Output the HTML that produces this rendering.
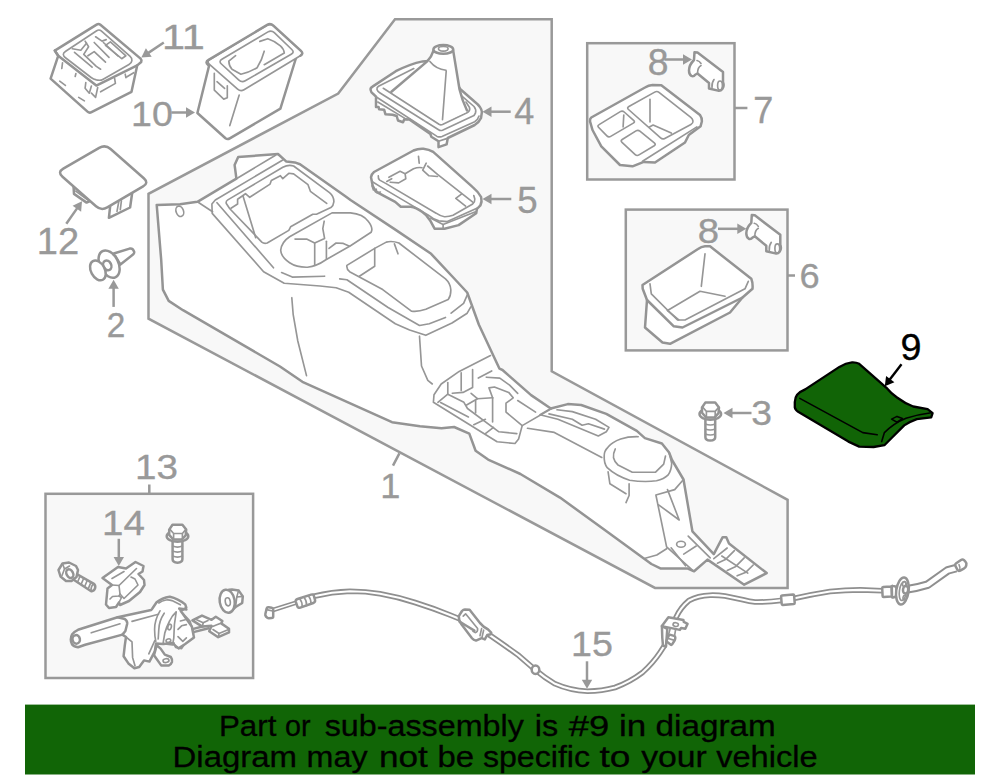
<!DOCTYPE html>
<html>
<head>
<meta charset="utf-8">
<title>Console parts diagram</title>
<style>
html,body{margin:0;padding:0;background:#fff;overflow:hidden;}
body{width:1000px;height:781px;font-family:"Liberation Sans",sans-serif;}
svg{display:block;}
.l{fill:none;stroke:#949494;stroke-width:2.5;stroke-linecap:round;stroke-linejoin:round;}
.t{fill:none;stroke:#969696;stroke-width:1.65;stroke-linecap:round;stroke-linejoin:round;}
.w{fill:#fff;stroke:#949494;stroke-width:2.5;stroke-linecap:round;stroke-linejoin:round;}
.wt{fill:#fff;stroke:#969696;stroke-width:1.65;stroke-linecap:round;stroke-linejoin:round;}
.wf{fill:#fff;stroke:none;}
.box{fill:#f8f8f8;stroke:#999;stroke-width:2.5;stroke-linejoin:miter;}
.n{font-family:"Liberation Sans",sans-serif;font-size:36px;fill:#999;stroke:#999;stroke-width:0.35px;}
.nk{font-family:"Liberation Sans",sans-serif;font-size:36px;fill:#000;stroke:#000;stroke-width:0.35px;}
.a{fill:#999;stroke:none;}
.al{fill:none;stroke:#999;stroke-width:2.5;}
.ak{fill:#000;stroke:none;}
.akl{fill:none;stroke:#000;stroke-width:2.4;}
.g{fill:#116406;stroke:#000;stroke-width:2.3;stroke-linejoin:round;}
.k{fill:none;stroke:#000;stroke-width:1.6;stroke-linecap:round;stroke-linejoin:round;}
.c1{fill:none;stroke:#8f8f8f;stroke-width:5.6;stroke-linecap:round;stroke-linejoin:round;}
.c2{fill:none;stroke:#fff;stroke-width:2.1;stroke-linecap:round;stroke-linejoin:round;}
.b{font-family:"Liberation Sans",sans-serif;font-size:29.8px;fill:#000;stroke:#000;stroke-width:0.3px;}
</style>
</head>
<body>
<svg width="1000" height="781" viewBox="0 0 1000 781">
<rect x="0" y="0" width="1000" height="781" fill="#fff"/>
<g id="p_boxes">
<polygon class="box" points="395,19.3 551.7,19.3 551.7,371.3 787.6,499.8 787.6,587.9 655,587.9 148.5,318.7 148.5,193.8 338.2,93.5"/>
<rect class="box" x="587.2" y="43.2" width="147.3" height="136.3"/>
<rect class="box" x="625.8" y="209.6" width="161.7" height="140.8"/>
<rect class="box" x="45.5" y="493.8" width="207.6" height="184.2"/>
</g>
<g id="p_small">
<path class="w" d="M54.8,50.6 L96.6,24.6 Q98.6,23.3 100.4,24.8 L140.6,58.6 Q142,60 141.2,62 L137.2,65.4 L131.5,91.8 L91.5,112.2 Q89.3,113.3 87.5,111.6 L50.6,78.6 L58.2,55.8 Z"/>
<path class="l" d="M54.8,50.6 L58.2,55.8 L96.3,85.6 L137.2,65.4"/>
<path class="t" d="M63.3,54.5 Q63.2,52.8 65.7,51.2 L96.7,30.7 Q99.2,29.1 101.5,31.1 L129.9,56.2 Q132.2,58.2 131.9,60.6 L131.9,60.6 Q131.6,63.0 129.0,64.5 L103.2,79.2 Q100.6,80.7 97.7,80.1 L96.4,79.9 Q93.5,79.3 91.1,77.5 L65.8,58.0 Q63.4,56.2 63.3,54.5 Z"/>
<path class="t" d="M72.4,48.8 L80.8,50.2 L86.5,43.2"/>
<path class="t" d="M74.5,52.3 L92.1,67.1"/>
<path class="t" d="M85.1,41.1 L88.6,46.7 L83.7,54.4 L96.3,66.4 L100.6,69.2"/>
<path class="t" d="M87.9,55.8 L94.2,51.6 L105.5,62.2"/>
<path class="t" d="M94.2,42.5 L109,57.3"/>
<path class="t" d="M95.6,36.8 L102,41.1 L106.2,39.6"/>
<path class="t" d="M103.4,42.5 L118,56"/>
<path class="t" d="M62.5,62.9 L61.8,68.5"/>
<path class="t" d="M75.9,73.5 L75.2,76.5"/>
<path class="t" d="M59.7,81.2 L65.4,85.4"/>
<path class="t" d="M78.7,97.4 L84.4,100.9"/>
<path class="t" d="M85.8,82.6 L85.1,88.2 L89.3,93.2 L91.4,86.1"/>
<path class="t" d="M91.4,93.2 L95.6,97.4 L97.7,87.5"/>
<path class="t" d="M100.6,91.8 L114.6,83.9"/>
<path class="t" d="M114.6,78.4 L115.4,83.3"/>
<path class="t" d="M125.2,74.2 L125.9,77.7"/>
<path class="t" d="M126.6,77 L133.7,72.7"/>
<path class="t" d="M105.5,45.3 L110.4,41.8 L125.9,55.8 L121.7,58.7 Z"/>
<path class="w" d="M209.5,64 L197.4,113 L225.5,138.3 Q227.5,139.8 229.8,138.4 L280.4,108.6 L296,58 Z"/>
<path class="wt" d="M209.5,64.3 Q206.5,61.6 209.9,59.5 L267.1,25.2 Q270.5,23.1 273.4,25.8 L300.8,50.9 Q303.7,53.6 300.3,55.7 L244.0,89.8 Q240.6,91.9 237.6,89.2 Z"/>
<path class="l" d="M208.2,65 Q204.6,62.2 208.6,59.9 L267.2,24.9 Q270.5,23 273.4,25.7 L301,50.9 Q303.9,53.6 300.5,55.7"/>
<path class="t" d="M221.4,64.0 Q218.5,61.3 221.9,59.3 L268.0,31.9 Q271.4,29.9 274.3,32.7 L291.8,49.5 Q294.7,52.3 291.2,54.3 L245.3,80.8 Q241.8,82.8 238.9,80.1 Z"/>
<path class="t" d="M235.6,55.7 L228.8,61.1 Q229,66 232,69.2 L240.9,74.2 Q250,72 257.1,67.7 Q262,60 264.2,51.2"/>
<path class="t" d="M259.8,41.4 L267.8,38.7 Q275,41 280.4,45.8 Q284,49 284.3,53 L264.2,64.7"/>
<path class="t" d="M239.2,95.1 L229.8,125.6"/>
<path class="wt" d="M214.3,73.2 L214.3,90.2 L223.7,99.1 L227.3,97.8 L227.3,85.7"/>
<path class="t" d="M217,81.7 L224.6,88.4"/>
<path class="w" d="M73.5,186 L74,193.9 L86.6,202.6 L91,200.5"/>
<path class="t" d="M75.7,191.1 L87.6,199.8"/>
<path class="w" d="M110.5,203 L108.9,217.8 L130.1,207.5 L132.3,192"/>
<path class="t" d="M118.7,202 L117,211.3"/>
<path class="t" d="M121.4,200.9 L120.3,209.6"/>
<path class="w" d="M62.5,176.7 Q57.2,172.1 63.3,168.6 L99.2,147.9 Q105.3,144.4 110.6,149.0 L143.8,178.3 Q149.1,182.9 143.1,186.4 L107.3,207.4 Q101.3,210.9 96.0,206.3 Z"/>
<path class="w" d="M113.8,253.5 L129.6,248.6 Q133,248 134.2,251.9 Q134.4,253.5 133,254.6 L120.4,264.6 Z"/>
<ellipse class="w" cx="109.1" cy="264.1" rx="9.2" ry="14.6" transform="rotate(-27 109.1 264.1)"/>
<ellipse class="w" cx="107.3" cy="265.4" rx="3.9" ry="5" transform="rotate(-27 107.3 265.4)"/>
<ellipse class="w" cx="97.9" cy="270.4" rx="6.9" ry="10.6" transform="rotate(-28 97.9 270.4)"/>
</g>
<g id="p_mid">
<path class="w" d="M370.6,90 Q370.2,88 372.5,86.6 L395.8,71.2 Q410,64 422.7,61.4 L440,60 L460.4,89.2 L474.7,101.7 Q481.5,107 481.9,112 L481,118 Q479,122.5 474.7,125 L447.8,138 L446.6,144.4 L438.5,147.1 L438.5,141.2 L431.3,136.7 L430.4,134 L409.7,119.6 L404.3,119.2 L403,122.3 L398,120.5 L396.7,116 L392.6,114.7 L385.4,114.2 L384.1,109.7 L379.1,109.3 L378.6,107 L376,107 L376,96.7 L373.7,94.4 Q370.8,92.5 370.6,90 Z"/>
<path class="t" d="M376,96.7 L437,136.4 Q439.5,137.4 442,136.4 L474.7,121.8 Q478,119.6 479,116"/>
<path class="t" d="M377.8,102 L407,119.6"/>
<path class="t" d="M438.5,141.2 L446.6,138.6"/>
<path class="t" d="M377,89.5 Q376.6,87.6 378.5,86.3 L413.8,68.5 M462.2,96.3 L474,106.5 Q476.5,109.5 475.5,113 L474,115.5 L442.5,130.2 Q440.5,131 438.6,129.8 L379.7,92.7 Q377.5,91.3 377,89.5"/>
<path class="t" d="M383.3,88.3 L439,124.3 Q440.7,125.3 442.5,124.5 L467.5,112.5 Q470.5,110.5 469.5,107.5 L466,102"/>
<path class="wf" d="M433.5,50.6 Q431.5,57 427.2,61.4 L391.4,91.8 L440.5,123.5 L467.5,111.5 Q462,100 459.5,89.2 L453.2,50.6 Z"/>
<path class="l" d="M433.5,50.6 Q431.5,57 427.2,61.4 L391.4,91.8"/>
<path class="l" d="M453.2,50.6 L459.5,89.2 Q462,100 467,110.5"/>
<ellipse class="w" cx="443.3" cy="49.4" rx="9.9" ry="4.4"/>
<ellipse class="t" cx="443.3" cy="48.8" rx="4.8" ry="2.3"/>
<path class="t" d="M446.2,71.2 L442.5,119.6"/>
<path class="t" d="M429.9,61.4 Q436,69 446,70.3"/>
<path class="w" d="M371,177.3 Q371.5,174 374,172 L413.5,150.5 Q418,148.5 423.4,148.8 Q429,149.5 433.2,151.9 L472.7,187.1 Q478.5,192 481.1,197 Q482.3,201.5 480.4,205.4 L476.9,209 L476.2,213.2 L458.6,225.1 L444.5,228.7 L434.6,228.7 L430.4,220.9 Q427,215 422,211.8 Q416,207.5 410.7,206.8 L400.8,206.8 L395.2,201.9 L375.5,191.3 L372.7,185.7 Z"/>
<path class="t" d="M378.3,175.8 Q378,178.5 379.7,180.1 L386.1,183.6 L436.1,213.2 Q440,216 444.5,216.7 Q449,216.8 453,215.3 L472.7,204 Q475,202 474.8,199.1 L473.8,195.6"/>
<path class="t" d="M372,181.5 L381.1,187.1 L427.6,214.6 Q433,219 438.9,220.9 L447.3,221.6 L476.9,208.2"/>
<path class="t" d="M430.4,218.1 L443.1,224.4 L443.1,228.7"/>
<path class="t" d="M443.1,224.4 L475.5,211.8"/>
<path class="t" d="M388.9,177.3 L400.1,171.3 L405.1,173.7 L405.8,178.7 L398.7,182.9 L390.3,182.2"/>
<path class="t" d="M386.8,181.5 L391.7,178.7"/>
<path class="t" d="M418.5,156.4 L419.2,163.2"/>
<path class="t" d="M426.2,163.2 L422.7,170.2 L429,175.8 L437.5,176.5"/>
<path class="t" d="M427.6,166 L437.5,174.4 L473.4,202.6"/>
<path class="t" d="M461.4,194.2 L455.8,198.4 L465.6,206.1"/>
<path class="t" d="M372,185.7 L373.4,189.9 L376.2,189.2 L376.9,192.7 L380.4,192"/>
<path class="t" d="M405.1,173.7 L413.5,168.8 Q418,167 422,167.7"/>
</g>
<g id="p_console">
<path class="w" d="M156.7,204.9 L180,204.3 L197.4,201.8 L236.4,178.7 L234.6,164.9 L238.2,157 L278,154 L286.4,161.6 L294.8,162.4 L300,164.2 L345,196.1 L350.5,200 L395.3,229.6 L431.1,253.8 L455.6,280 L467.2,292.5 L478.9,324.8 L499.5,368.7 L502.5,370 L531.1,395.1 L550.8,408.5 L567.8,404.1 L581.2,405 L606.3,413.9 L636.8,430.9 L644.9,438.1 L661.9,443.5 L669.1,452.5 L672,460 L677.9,470 L683.5,479.5 L692.4,531.3 L713.8,554.2 L722.7,537.2 L726.3,537.2 L729,543.5 L766.7,573.1 L744.2,584.7 L707.5,559.6 L694.1,571.3 L687.3,568.4 L660.4,568.4 L651.4,564 L604.8,529.9 L560,497.6 L520.4,474 L488.1,459.6 L475.6,450.7 L469.3,433.6 L454.1,427 L441.5,428.3 L420,426.2 L392,422.2 L302.4,381.8 L280,366.5 L183,310.2 L168.7,300.9 L162.9,289.6 L161.2,260 Z"/>
<path class="t" d="M197.4,201.8 L212.6,211.7"/>
<path class="t" d="M236.4,178.7 L275.5,155.2"/>
<path class="t" d="M282.8,160 L215.3,200 L211.9,204 L212.2,213.4 L263.6,271.7 L284.2,283.3 L320,286 L336.1,287.8 L348.7,292.3 L395.3,323.7 L409.6,330 L425.8,335.3 L452,323 L467.2,313.2 L470.8,306.9"/>
<path class="t" d="M217,202.7 L273.5,267.8"/>
<path class="t" d="M231,208.2 L237.6,204 L237.6,199.2 L245.5,193.7 L249.7,197.3 L270.1,184.1 L271.3,180.5 L280.4,175.7 L282.8,178.7 L288.8,173.3 L293.6,173.9 L308,184.7 L310.4,191.3 L326.7,203.4"/>
<path class="t" d="M243,196.1 L255.7,237.7"/>
<path class="t" d="M295,239.1 L306.6,239.1 L314.7,243 L324.6,238.5 L322.8,228.7 L324.2,221.2"/>
<path class="t" d="M314.7,243 L314.7,265.4"/>
<path class="t" d="M326.4,241.2 L326.4,259.2"/>
<path class="t" d="M329,248.4 L336.1,243 L343.3,243.4 L349.6,246.2"/>
<path class="t" d="M281.6,272.6 L292.3,277.1 L324.6,276.2"/>
<path class="t" d="M339.7,278.9 L346.9,279.8 L388.1,307.5 L419.5,325.5 L429.3,323.7 L445.5,317.4"/>
<path class="t" d="M451.1,313.2 L463.6,303.3 L467.2,295.2"/>
<path class="t" d="M419.5,336.2 L421.5,366 L427.8,380.4 L432.3,384"/>
<path class="t" d="M374.7,248.4 L374.7,266.3 L359.4,276.2"/>
<path class="t" d="M394.4,243.9 L398,253.8"/>
<path class="t" d="M291.8,297.7 L293.2,314.7 L297.8,341 L306.5,375.6"/>
<path class="t" d="M490.5,355.6 L459.2,371.4 L441.2,384 L434,394.7 L433.4,402.3 L497.1,441.7 L515,443.5 L518.6,439 L522.2,425.6 L551.7,408.5"/>
<path class="t" d="M437.9,402.3 L447.8,394.2 L463.9,402.3 L467.5,408.5 L498.9,431.8 L516.8,433.6"/>
<path class="t" d="M440.6,402.6 L468.4,417"/>
<path class="t" d="M447.8,382.5 L447.8,394.2"/>
<path class="t" d="M461.2,372.7 L461.2,390.6"/>
<path class="t" d="M472.6,369.6 L472.6,387.5 L463,392.4 L452.3,393.3"/>
<path class="t" d="M471.1,393.3 L477.4,398.7 L492.6,397.8"/>
<path class="t" d="M466.6,405 L477.4,398.7"/>
<path class="t" d="M475.6,400.5 L475.6,413"/>
<path class="t" d="M492.6,397.8 L492.6,422"/>
<path class="t" d="M492.6,397.8 L489,387.9 L494.4,387 L508.7,392.4 L513.2,397.8 L506,403.2 L506,412.1 L522.2,425.6"/>
<path class="t" d="M478.3,378.1 L491.7,370.9"/>
<path class="t" d="M486.3,377.2 L499.8,378.1 L509.6,385.2 L517.7,393.3"/>
<path class="t" d="M517.7,400.5 L535.6,412.1"/>
<path class="t" d="M473.8,424.7 L485.4,419.3"/>
<path class="t" d="M485.4,433.6 L493.5,427.4"/>
<path class="t" d="M527.5,428.3 L554.3,432.4 L601.8,457.5"/>
<path class="t" d="M550.8,408.5 L540,414.8 L557.9,419.3 L598.3,436 L606.3,431.8 L609,427.4 L595.6,419.3 L572.3,411.6 L557,409.8"/>
<path class="t" d="M549,413.9 L572.3,419.3 L582.1,425.2 L588.4,423.8 L604.5,429.1"/>
<path class="t" d="M608.1,471.8 L609.9,483.8 L626,493.7"/>
<path class="t" d="M629.1,483.8 L629.1,495.5 L626,502.6"/>
<path class="t" d="M683.5,479.5 L674.7,489.6 L655.9,495 L666.6,546.9 L693.5,571.1"/>
<path class="t" d="M667.5,489.6 L679.2,520 L658.6,504.8"/>
<path class="t" d="M645.1,558.2 L656.8,555 L666.6,548.7"/>
<path class="t" d="M671.1,547.8 L685.5,565.8"/>
<path class="t" d="M688.2,536.2 L710.2,557.8"/>
<path class="t" d="M683.7,554.1 L696.2,546"/>
<path class="t" d="M713.8,558.7 L727.2,548"/>
<path class="t" d="M721.8,556 L747.8,573.1"/>
<path class="t" d="M717.4,563.2 L725.4,559.6 L734.4,550.7"/>
<path class="t" d="M727.2,570.4 L735.3,566.8 L744.2,557.8"/>
<path class="t" d="M737.1,575.8 L746,572.2 L753.2,565"/>
<ellipse class="t" cx="179.8" cy="211.3" rx="3.7" ry="5.3" transform="rotate(-20 179.8 211.3)"/>
<ellipse class="t" cx="681" cy="544.2" rx="4.4" ry="3"/>
<path class="t" d="M226.3,203.5 Q225.6,201.2 227.8,199.9 L282.8,167.3 Q288.5,164.2 293.6,166 L329.5,192.6 Q333.8,196 333.9,201.6 Q333.5,205.5 330.9,207.6 L316.5,214.2 L312.8,214.2 L290.6,226.8 L288.8,230.4 L267.2,243 Q264,244 261.8,242.1 L229.8,208.8 Z"/>
<path class="t" d="M332,212.9 L350.5,212.9 Q363,214 368.4,221.5 Q373.5,228 371.1,232.3 L350.5,245.7 L325.5,260 Q317,266 307.5,267.2 Q297,267.5 289.6,262.7 Q281,257 280.7,250.2 Q281.5,242 289.6,236.7 Z"/>
<path class="t" d="M346.9,265.4 L374.7,248.4 L386.3,242.1 Q392,240.5 398.9,243 L445.5,278.9 Q450.5,283.5 450.8,289.6 Q451,296 448.2,299.5 L425.8,309.3 Q418,312 411.4,311.1 L382.7,289.6 L349.6,271.7 Q346.3,269 346.9,265.4 Z"/>
<path class="t" d="M638.2,436.7 Q628,436.5 620.7,439 Q612,442 608.1,447.1 Q604,451 604.2,456 Q603.8,463 607.2,467.7 Q616,476 629.6,480.2 Q644,482.5 656.5,480.8 Q664,479 668.2,474.9 Q671.5,470 671.7,463.2 L669.1,452.5"/>
<path class="t" d="M615.3,448.9 Q613,453.5 613.5,457.8 Q614.5,462 618,465 L632.3,472.2 L655.6,472.2 L663.7,464.1 L665.5,456"/>
</g>
<g id="p_right">
<path class="w" d="M590,121.3 Q589.8,118.6 591.3,117.5 L645,87.5 Q648.5,85.2 652.5,85 L661.3,85.3 L700,115 Q702.2,118 701.9,121.3 L700.6,126.3 L688.8,135 L685,142.5 L655,162.5 L643.8,161.9 L632.5,166.3 L620,165 L601.3,146.3 L592.5,130 Z"/>
<path class="t" d="M696.9,126.9 L642.5,161.3"/>
<path class="t" d="M628.5,109.5 Q626.6,107.8 628.9,106.5 L654.7,92.1 Q657.0,90.8 659.0,92.4 L690.8,117.4 Q692.8,119.0 693.0,121.1 L693.0,121.1 Q693.2,123.2 690.9,124.4 L664.8,138.4 Q662.5,139.6 660.6,137.9 Z"/>
<path class="t" d="M598.7,127.5 Q597.0,125.8 599.1,124.6 L620.3,111.6 Q622.4,110.4 624.2,112.0 L633.6,120.3 Q635.4,121.9 633.3,123.1 L610.7,136.4 Q608.6,137.6 606.9,135.9 Z"/>
<path class="t" d="M622.0,142.4 Q620.2,140.8 622.2,139.5 L636.0,130.9 Q638.0,129.6 639.9,131.1 L654.3,142.9 Q656.2,144.4 654.2,145.7 L639.0,154.9 Q637.0,156.2 635.2,154.6 Z"/>
<path class="t" d="M650,99.4 L650,121.9"/>
<path class="t" d="M649.4,126.9 L653.1,125 L671.3,133.1"/>
<path class="t" d="M623.8,115 L623.1,126.9"/>
<g><path class="w" d="M694.5,52.2 L697.5,52.5 L723,72 L723,82 Q724.5,86 722.3,89 Q720.5,91.3 718,90.6 L709,88.5 L709,83 L697.5,73.5 L695.5,74.5 Q693.5,77 691.5,76 Q689,74.5 689,70.5 Q689,65 694,60 Z"/><path class="t" d="M701,65.5 Q697.5,67.5 697.5,73.5"/><path class="t" d="M697,60.5 Q699.5,61 701,63.5"/><path class="t" d="M714,79.5 Q711.5,83 712,87.5"/><ellipse class="t" cx="720" cy="85.6" rx="2.4" ry="4.6"/></g>
<g transform="translate(57.3,162.8)"><path class="w" d="M694.5,52.2 L697.5,52.5 L723,72 L723,82 Q724.5,86 722.3,89 Q720.5,91.3 718,90.6 L709,88.5 L709,83 L697.5,73.5 L695.5,74.5 Q693.5,77 691.5,76 Q689,74.5 689,70.5 Q689,65 694,60 Z"/><path class="t" d="M701,65.5 Q697.5,67.5 697.5,73.5"/><path class="t" d="M697,60.5 Q699.5,61 701,63.5"/><path class="t" d="M714,79.5 Q711.5,83 712,87.5"/><ellipse class="t" cx="720" cy="85.6" rx="2.4" ry="4.6"/></g>
<path class="w" d="M642.5,285 L698,249 Q701.3,246.6 705,246.3 L710,246.3 L751.3,278.8 Q753,283 752.5,288.8 L742.5,297.5 L730,312.5 L670,343.8 L662.5,342.5 L645,327.5 L647,300 L642.7,288.8 Z"/>
<path class="t" d="M650,283.8 L651.3,293.8 L677.5,320 L685,320 L745,288.8 L748.3,281.3"/>
<path class="l" d="M647,300 L673.8,326.3 L682.5,327.5 L742.5,297.5"/>
<path class="t" d="M667.5,310.5 L700,291.3 L725,296.3"/>
<path class="t" d="M705,253.8 L701.3,286.3"/>
<path class="t" d="M667.5,310.5 L678.8,320"/>
<g><path class="w" d="M705.4,417 L705.4,437.2 Q705.4,440.3 710.3,440.6 Q715.2,440.3 715.2,437.2 L715.2,417 Z"/><path class="t" d="M705.4,424 Q710.3,426 715.2,424 M705.4,429 Q710.3,431 715.2,429 M705.4,434 Q710.3,436 715.2,434"/><ellipse class="w" cx="710.3" cy="414.1" rx="10.8" ry="5.6"/><path class="w" d="M705.3,402.6 L715.2,402.6 L719,407.5 L718.5,413.2 L714.7,417.4 L706,417.4 L702,412.8 L702,407.5 Z"/><path class="t" d="M703,407.5 L706.4,411.4 L715.2,411.4 L718.5,407.5 M706.4,411.4 L706.4,417 M715.2,411.4 L715.2,417"/></g>
<path class="g" d="M794.8,402 Q795,397.5 797.1,394.8 Q800,391.5 805.2,389.4 L839.4,366.9 Q846,363 852,362.4 Q856,362.2 859.2,363.8 L886.2,387.6 Q891,393.5 897,397.5 Q905,403.5 913.2,406.5 L927.6,409.2 L932.6,413.2 L931.2,417.3 L916.8,419.1 Q910,421.5 904.2,425.4 L891.6,438 L884.4,445.2 L873.6,447 L859.2,446.6 L848.4,441.6 L799.8,412.8 Q795.5,410.5 794.8,407.4 Z"/>
<path class="k" d="M799.8,398.4 L862.8,432.6 L877.2,434.8"/>
<path class="k" d="M881.7,441.6 L884.4,432.6 Q894,423 906,418.2 Q918,414.5 931.2,412.8"/>
<path class="k" d="M891.6,419.1 L897,416.4 L902.4,418.6 L897,422.2 Z"/>
</g>
<g id="p_bottom">
<g transform="translate(-532.8,122.1)"><path class="w" d="M705.4,417 L705.4,437.2 Q705.4,440.3 710.3,440.6 Q715.2,440.3 715.2,437.2 L715.2,417 Z"/><path class="t" d="M705.4,424 Q710.3,426 715.2,424 M705.4,429 Q710.3,431 715.2,429 M705.4,434 Q710.3,436 715.2,434"/><ellipse class="w" cx="710.3" cy="414.1" rx="10.8" ry="5.6"/><path class="w" d="M705.3,402.6 L715.2,402.6 L719,407.5 L718.5,413.2 L714.7,417.4 L706,417.4 L702,412.8 L702,407.5 Z"/><path class="t" d="M703,407.5 L706.4,411.4 L715.2,411.4 L718.5,407.5 M706.4,411.4 L706.4,417 M715.2,411.4 L715.2,417"/></g>
<path class="w" d="M71.5,571.2 L93.5,583.6 Q96,585.6 95,588.6 Q93.6,591.8 90.8,591 L69.5,577 Z"/>
<path class="t" d="M76.5,574.0 L73.9,580.2"/>
<path class="t" d="M80.1,576.1 L77.5,582.3"/>
<path class="t" d="M83.7,578.2 L81.1,584.4"/>
<path class="t" d="M87.3,580.3 L84.7,586.5"/>
<path class="t" d="M90.9,582.4 L88.3,588.6"/>
<path class="t" d="M93.5,583.6 Q91,586 90.8,591"/>
<path class="w" d="M58.5,570 L62.5,563.5 L69,562.5 L76,566 L78,570 L76.5,577 L71.5,581 L66,581 L60.5,576.5 Z"/>
<path class="t" d="M62.5,563.5 L64.5,569 L62,575.5"/>
<path class="t" d="M64.5,569 L69.5,566"/>
<ellipse class="w" cx="69.8" cy="573.6" rx="3.2" ry="4.6" transform="rotate(-28 69.8 573.6)"/>
<path class="w" d="M102.5,578 L118,567 L126,568.5 L135.5,562 L143.5,566 L142.5,571.5 L138.5,574 L144,580 L144.5,585 L140,592 L129,601 L120,605 L119,602.5 L116,607 L109,608 L106,604.5 L107.5,588.5 L112,585 Z"/>
<path class="t" d="M112,585 L119,585.5 L136.5,568.5"/>
<path class="t" d="M112,578.5 L124,571.5"/>
<path class="t" d="M119,585.5 L120,594 L124,598.5 L138,585 L135,579 L131,577"/>
<path class="t" d="M110,599 L112.5,596.5 L119,596 L120,594"/>
<path class="t" d="M119,596 L121.5,597.5 L119,602.5"/>
<path class="w" d="M229,589.8 L232,589.6 L238.6,590.4 L242.8,596.4 L242.2,603 L235.6,607 L230,612 Z"/>
<path class="t" d="M238.6,590.4 L236.8,597 L242.8,596.4"/>
<path class="t" d="M236.8,597 L235.6,607"/>
<ellipse class="w" cx="227.2" cy="601.2" rx="7.5" ry="11.6" transform="rotate(-9 227.2 601.2)"/>
<ellipse class="t" cx="227.8" cy="601.8" rx="2.5" ry="4.1" transform="rotate(-9 227.8 601.8)"/>
<path class="l" d="M190.5,629.6 L209,624.8"/>
<path class="l" d="M191.5,632.6 L208.5,628.2"/>
<path class="w" d="M192.4,620.4 L202,615.6 L211.6,619.8 L215.8,616.8 L222.4,621 L221.2,623.4 L229,628.8 L229,632.4 L218.2,637.2 L209.2,631.2 L211.6,625.8 L202,626.4 Z"/>
<path class="t" d="M196.6,619.8 L203.2,622.8 L208,620.5"/>
<path class="t" d="M203.2,622.8 L202.5,626"/>
<path class="t" d="M212.5,626.5 L220,623.5"/>
<path class="t" d="M213,629.5 L219,633.5 L228.6,629.5"/>
<path class="t" d="M219,633.5 L218.5,637"/>
<path class="w" d="M70.8,639.4 Q70.8,636.5 72,634.6 Q74.5,631.3 78,629.8 L117.6,617.2 L151.2,610 L152.2,608.8 L156.6,602.2 Q162,598 169.8,596.7 Q178,598.5 185.2,604.4 L186.3,607.7 L180.8,611 L191.8,626.4 L194,637.4 L185.2,644 L178.6,648.4 L172,642.9 L163.2,644 L156,643.6 L154.8,651.4 L149.4,661.6 L144,660.4 L139.2,667 L134.4,668.2 L128.4,663.4 L123.6,656.2 L124.8,645.4 L126,637 L122.4,634.6 L85.2,644.8 L78,647.2 Q73.5,646.5 72,644.2 Q70.8,642 70.8,639.4 Z"/>
<ellipse class="w" cx="76.2" cy="639.4" rx="3.7" ry="4.3" transform="rotate(-10 76.2 639.4)"/>
<path class="l" d="M117.6,617.2 L124.8,619 Q127.6,621 127.2,623.8 L125.4,631 L122.4,634.6"/>
<path class="t" d="M91.2,632.8 L120,623.8"/>
<path class="t" d="M132,621.4 L158.4,614.2"/>
<path class="t" d="M126,637 L132,641.8 L132.6,657.4 L135,665.8"/>
<path class="t" d="M148.8,653.8 L154.8,640.6"/>
<path class="t" d="M158.8,603 Q162,600.8 166,600 Q169,599.6 172,600.6 L180.4,604.8"/>
<path class="l" d="M179.2,608.4 L186.4,609.6"/>
<path class="t" d="M160,610.8 Q154.5,620 154.6,629.4 Q154.6,636 155.8,641.4"/>
<path class="t" d="M164.2,613.2 Q159,621 158.8,629.4 L158.2,639"/>
<path class="t" d="M176.2,612 Q172,615.5 169.6,621 Q166.5,627 164.8,633 L163,643.8"/>
<path class="t" d="M176.2,612 L174.4,624.6 L173.8,637.8 L172.6,645 L163,643.8"/>
<ellipse class="t" cx="169.6" cy="627" rx="1.7" ry="2.9" transform="rotate(15 169.6 627)"/>
<ellipse class="t" cx="168.4" cy="640.6" rx="2.4" ry="1.7" transform="rotate(-15 168.4 640.6)"/>
<path class="t" d="M179.2,609 L182.8,613.2 L190,621 L193.6,633"/>
<path class="t" d="M178,629.4 L181.6,625.8 L186.4,624.6"/>
<path class="t" d="M180.4,621 L185.2,619.8"/>
<path class="t" d="M178,636.6 L182.8,641.4 L186.4,637.8"/>
<path class="t" d="M173.8,642.6 L175.6,647.4 L181.6,648.6 L184,645"/>
<path class="w" d="M156.4,645 L160.6,648.6 L164.8,654.6 L170.8,657 Q172.6,659.5 172,661.8 Q171,664.6 169,665.4 L161.2,665.4 L154,655.2 L155.8,648.6 Z"/>
<ellipse class="t" cx="166" cy="660.6" rx="3" ry="1.9" transform="rotate(-8 166 660.6)"/>
<path class="c1" d="M313.8,596.3 Q332,592 350,591.3 Q366,591.3 380,593.8 Q398,597 415,602.5 Q434,608.5 450,615 L466,621.5"/>
<path class="c1" d="M489,634.6 Q505,645.5 518.8,655.6 L535,669.6 Q545,678 555,683.8 Q570,690.5 587.5,691.3 Q602,691 615,687.5 Q630,682 642.5,672.5 Q653,663 660,652.5 L664.2,646"/>
<path class="c1" d="M675.9,617.6 Q680.5,607.5 689,600.5 Q698,595.6 710,595.2 Q718,595 725,596 L743,599.7 Q750,601.4 755,602 Q768,602.2 780.8,600.4 M794.7,598.3 Q812,594.3 830,591.5 Q845,590 860.4,589.9 L882.5,590.7"/>
<path class="c2" d="M313.8,596.3 Q332,592 350,591.3 Q366,591.3 380,593.8 Q398,597 415,602.5 Q434,608.5 450,615 L466,621.5"/>
<path class="c2" d="M489,634.6 Q505,645.5 518.8,655.6 L535,669.6 Q545,678 555,683.8 Q570,690.5 587.5,691.3 Q602,691 615,687.5 Q630,682 642.5,672.5 Q653,663 660,652.5 L664.2,646"/>
<path class="c2" d="M675.9,617.6 Q680.5,607.5 689,600.5 Q698,595.6 710,595.2 Q718,595 725,596 L743,599.7 Q750,601.4 755,602 Q768,602.2 780.8,600.4 M794.7,598.3 Q812,594.3 830,591.5 Q845,590 860.4,589.9 L882.5,590.7"/>
<path d="M273,610 L297,602.4" style="fill:none;stroke:#8f8f8f;stroke-width:4.5;stroke-linecap:butt"/>
<path d="M273,610 L297,602.4" style="fill:none;stroke:#fff;stroke-width:1.5"/>
<path class="w" d="M265.9,616.4 Q265.0,615.2 265.4,613.7 L266.7,608.4 Q267.1,606.9 268.6,607.2 L271.7,607.8 Q273.2,608.1 273.2,609.6 L273.2,616.4 Q273.2,617.9 271.7,618.0 L268.9,618.2 Q267.4,618.3 266.5,617.1 Z"/>
<path class="t" d="M266.6,609.6 L272.6,611"/>
<path class="w" d="M295.9,602.1 Q295.2,599.8 297.5,599.0 L311.1,594.6 Q313.4,593.8 314.0,596.1 L315.0,599.9 Q315.6,602.2 313.3,603.0 L300.3,607.6 Q298.0,608.4 297.3,606.1 Z"/>
<path class="t" d="M299.6,598.6 Q302.4,602 302.2,607"/>
<path class="t" d="M304,597.2 Q306.8,600.6 306.6,605.6"/>
<path class="t" d="M308.4,595.8 Q311.2,599.2 311,604.2"/>
<path class="w" d="M458.8,616.2 L462,611 Q463.4,609.4 464.8,609.4 L469.6,609.8 L480,623 L483.6,626.6 L488,629.4 L491.2,632.6 L490.8,634.2 L487.2,635 L484.8,639.4 L481.6,638.2 L476,640.6 Q473.5,640 472,638.2 L461.6,624.6 Q458.5,620 458.8,616.2 Z"/>
<path class="t" d="M463.2,616.2 L465.6,613.8 L477.6,628.6 Q478,632 475.2,632.6 L473,631.4"/>
<path class="l" d="M459.5,621.6 L467.2,626.2 L474.4,630.6"/>
<path class="t" d="M481.6,628.6 L480,635.8"/>
<path class="t" d="M483.6,630.2 L482,637.4"/>
<ellipse class="w" cx="535.5" cy="669.8" rx="3.8" ry="4.2"/>
<path class="w" d="M661.9,626.1 L662.3,638 L663,645.7 L666,646.5 L667.3,628.8 Z"/>
<path class="w" d="M667.3,642.1 Q666.2,641.2 666.8,639.9 L668.6,635.9 Q669.2,634.6 670.6,634.9 L674.0,635.9 Q675.4,636.2 675.3,637.6 L675.3,638.0 Q675.2,639.4 674.5,640.6 L672.3,644.2 Q671.6,645.4 670.5,644.5 Z"/>
<path class="t" d="M667.6,638.2 L674.6,640.4"/>
<path class="w" d="M668.4,617.3 L683.4,620 L683.8,621.9 L687.6,623.8 L685.3,628.8 L681.1,628 L679.9,629.9 L665.4,626.9 L661.9,626.1 Z"/>
<ellipse class="t" cx="675.7" cy="624.6" rx="2.7" ry="1.9" transform="rotate(8 675.7 624.6)"/>
<path class="t" d="M670.3,628.3 L668.6,634.4"/>
<path class="t" d="M675.6,629.3 L674.6,635.6"/>
<path class="w" d="M781.1,596.6 Q781.0,595.6 782.0,595.5 L793.0,594.5 Q794.0,594.4 794.1,595.4 L794.7,602.8 Q794.8,603.8 793.8,603.9 L782.8,604.9 Q781.8,605.0 781.7,604.0 Z"/>
<path class="c1" d="M906,589.6 Q918,587.6 927.8,584.6 L947.6,570.4 L956,568.2" style="stroke-width:8.6;stroke-linecap:butt"/>
<path class="c2" d="M906,589.6 Q918,587.6 927.8,584.6 L947.6,570.4 L956,568.2" style="stroke-width:4.6;stroke-linecap:butt"/>
<path class="w" d="M955.5,566.2 Q954.6,564.4 956.2,563.3 L961.0,559.9 Q962.6,558.8 964.0,560.2 L965.4,561.6 Q966.8,563.0 966.3,564.9 L966.1,565.9 Q965.6,567.8 963.8,568.7 L960.2,570.7 Q958.4,571.6 957.5,569.8 Z"/>
<path class="t" d="M959,564.6 Q960.6,567.4 959.6,570.4"/>
<path class="w" d="M882.2,588.0 Q882.2,587.0 883.2,586.9 L890.6,586.5 Q891.6,586.4 891.6,587.4 L892.0,595.6 Q892.0,596.6 891.0,596.6 L883.6,597.0 Q882.6,597.0 882.6,596.0 Z"/>
<path class="w" d="M891.8,586.6 Q891.8,585.6 892.8,585.9 L895.4,586.5 Q896.4,586.8 896.4,587.8 L896.6,595.4 Q896.6,596.4 895.6,596.7 L893.0,597.5 Q892.0,597.8 892.0,596.8 Z"/>
<ellipse class="w" cx="902.4" cy="591" rx="6.2" ry="13.6" transform="rotate(8 902.4 591)"/>
<ellipse class="t" cx="903" cy="591" rx="3.6" ry="9.6" transform="rotate(8 903 591)"/>
<ellipse class="t" cx="904.2" cy="584" rx="1.7" ry="2.3" transform="rotate(8 904.2 584)"/>
<ellipse class="t" cx="904.7" cy="597.6" rx="1.7" ry="2.3" transform="rotate(8 904.7 597.6)"/>
<ellipse class="w" cx="905.6" cy="589.8" rx="2.6" ry="3.8" transform="rotate(8 905.6 589.8)"/>
</g>
<g id="p_labels">
<text class="n" transform="translate(161.89,49) scale(1.152,1)">11</text>
<text class="n" transform="translate(130.98,125.6) scale(1.045,1)">10</text>
<text class="n" transform="translate(36.75,254.2) scale(1.056,1)">12</text>
<text class="n" transform="translate(106.73,336.5) scale(0.927,1)">2</text>
<text class="n" transform="translate(514.30,123.8) scale(1.000,1)">4</text>
<text class="n" transform="translate(517.37,212.6) scale(1.018,1)">5</text>
<text class="n" transform="translate(753.20,122.7) scale(1.000,1)">7</text>
<text class="n" transform="translate(647.84,74.8) scale(1.036,1)">8</text>
<text class="n" transform="translate(697.80,242.6) scale(1.065,1)">8</text>
<text class="n" transform="translate(799.49,287.8) scale(1.006,1)">6</text>
<text class="n" transform="translate(751.15,425.4) scale(1.035,1)">3</text>
<text class="n" transform="translate(380.28,497.8) scale(1.006,1)">1</text>
<text class="n" transform="translate(135.10,478.6) scale(1.073,1)">13</text>
<text class="n" transform="translate(102.11,534.5) scale(1.069,1)">14</text>
<text class="n" transform="translate(570.97,656.1) scale(1.047,1)">15</text>
<text class="nk" transform="translate(900.42,360.2) scale(1.048,1)">9</text>
<path class="al" d="M163.8,42.5 L148.0,53.1"/><path class="a" d="M141.3,57.5 L145.9,48.2 L151.7,56.8 Z"/>
<path class="al" d="M171.3,112.5 L187.0,112.5"/><path class="a" d="M195.0,112.5 L186.0,117.7 L186.0,107.3 Z"/>
<path class="al" d="M66.3,223.8 L77.4,207.9"/><path class="a" d="M82.0,201.3 L81.1,211.7 L72.6,205.7 Z"/>
<path class="al" d="M113.6,306.9 L113.6,287.8"/><path class="a" d="M113.6,279.8 L118.8,288.8 L108.4,288.8 Z"/>
<path class="al" d="M510.7,111.7 L490.5,111.7"/><path class="a" d="M482.5,111.7 L491.5,106.5 L491.5,116.9 Z"/>
<path class="al" d="M511.3,199.0 L490.5,199.0"/><path class="a" d="M482.5,199.0 L491.5,193.8 L491.5,204.2 Z"/>
<path class="al" d="M664.5,59.5 L684.0,59.5"/><path class="a" d="M692.0,59.5 L683.0,64.7 L683.0,54.3 Z"/>
<path class="al" d="M718.0,228.8 L738.3,228.8"/><path class="a" d="M746.3,228.8 L737.3,234.0 L737.3,223.6 Z"/>
<path class="al" d="M751.5,413.0 L731.5,413.0"/><path class="a" d="M723.5,413.0 L732.5,407.8 L732.5,418.2 Z"/>
<path class="al" d="M118.8,538.8 L118.8,558.0"/><path class="a" d="M118.8,566.0 L113.6,557.0 L124.0,557.0 Z"/>
<path class="al" d="M587.0,661.3 L587.0,680.8"/><path class="a" d="M587.0,688.8 L581.8,679.8 L592.2,679.8 Z"/>
<path class="akl" d="M901.5,364.2 L889.6,379.8"/><path class="ak" d="M884.8,386.2 L886.1,375.9 L894.4,382.2 Z"/>
<path class="al" d="M735,108 L747.4,108 M788,275.5 L795,275.5 M399.4,453.4 L393,465.7 M149.3,484.5 L149.3,493.8"/>
</g>
<g id="p_banner">
<rect x="25" y="704.6" width="950" height="69.9" fill="#116506"/>
<text class="b" transform="translate(218.98,735.6) scale(1.051,1)">Part</text>
<text class="b" transform="translate(285.00,735.6) scale(0.962,1)">or</text>
<text class="b" transform="translate(324.63,735.6) scale(1.084,1)">sub-assembly</text>
<text class="b" transform="translate(534.83,735.6) scale(1.087,1)">is</text>
<text class="b" transform="translate(568.63,735.6) scale(1.222,1)">#9</text>
<text class="b" transform="translate(618.91,735.6) scale(1.172,1)">in</text>
<text class="b" transform="translate(655.55,735.6) scale(1.118,1)">diagram</text>
<text class="b" transform="translate(172.55,766.8) scale(1.106,1)">Diagram</text>
<text class="b" transform="translate(306.58,766.8) scale(1.084,1)">may</text>
<text class="b" transform="translate(378.89,766.8) scale(1.180,1)">not</text>
<text class="b" transform="translate(437.40,766.8) scale(1.104,1)">be</text>
<text class="b" transform="translate(482.89,766.8) scale(1.079,1)">specific</text>
<text class="b" transform="translate(599.38,766.8) scale(1.245,1)">to</text>
<text class="b" transform="translate(641.14,766.8) scale(1.134,1)">your</text>
<text class="b" transform="translate(716.14,766.8) scale(1.095,1)">vehicle</text>
</g>
</svg>
</body>
</html>
